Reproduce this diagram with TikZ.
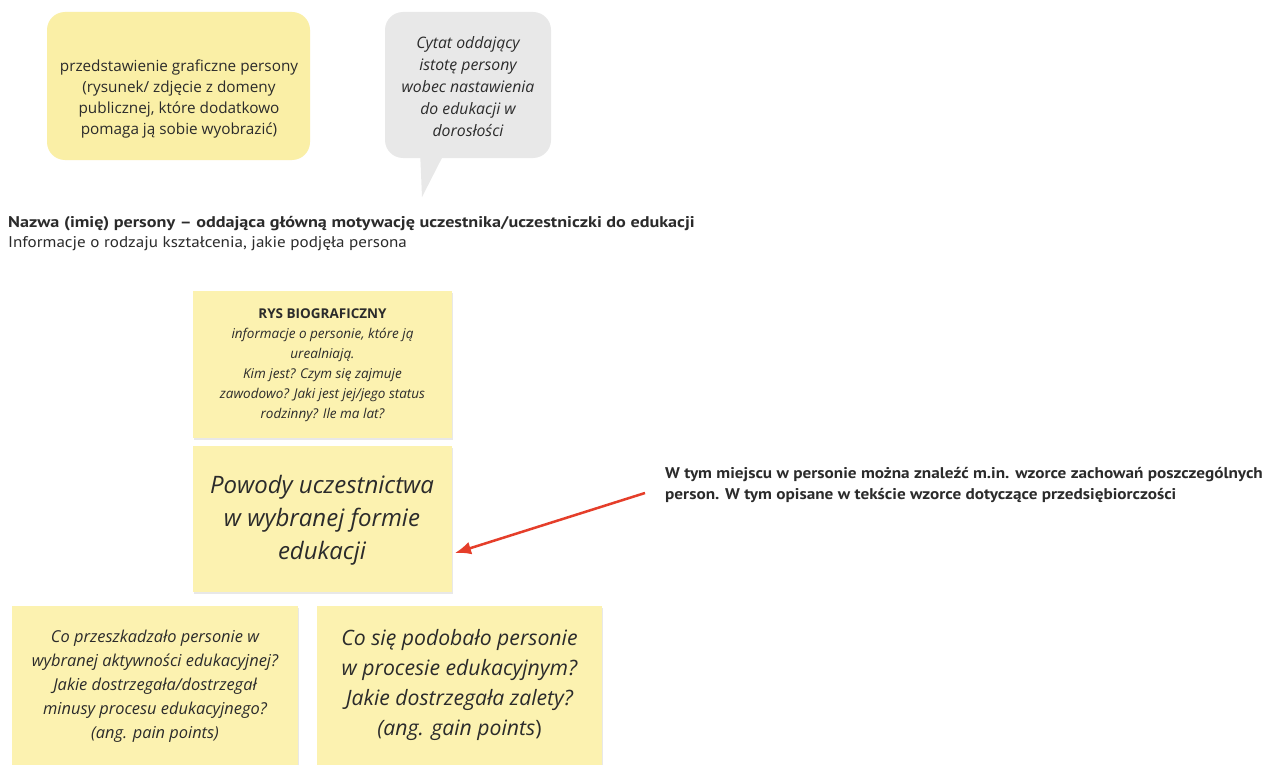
\documentclass[tikz,border=0pt]{standalone}
\usepackage{fontspec}
\setmainfont{Open Sans}
\newfontfamily\hdreg[FakeStretch=1.1]{PT Sans}
\newfontfamily\hdbold[FakeStretch=1.17]{PT Sans}
\newfontfamily\calfont[FakeStretch=1.11]{PT Sans}
\usetikzlibrary{shadows,arrows.meta}
\definecolor{ylw}{HTML}{FAEFA6}
\definecolor{note}{HTML}{FCF2B0}
\definecolor{bub}{HTML}{E8E8E8}
\definecolor{txt}{HTML}{2B2B2B}
\definecolor{arr}{HTML}{E53E2A}
\tikzset{
  rbox/.style={fill=ylw, rounded corners=18pt, inner sep=0pt},
  sticky/.style={fill=note, inner sep=0pt, drop shadow={opacity=0.18, shadow xshift=1pt, shadow yshift=-1.5pt}},
  body/.style={text=txt, align=center},
}
\begin{document}
\begin{tikzpicture}[x=1pt,y=-1pt]
\useasboundingbox[fill=white] (0,0) rectangle (1266,765);
% top left rounded box
\node[rbox, minimum width=263pt, minimum height=148pt] (pic) at (178.5,86) {};
\node[body, font=\fontsize{15.3}{21}\selectfont] (pictxt) at (179,99) {przedstawienie graficzne persony\\(rysunek/ zdjęcie z domeny\\publicznej, które dodatkowo\\pomaga ją sobie wyobrazić)};
% speech bubble
\fill[bub] (420,150) -- (446,150) -- (422,197) -- cycle;
\node[fill=bub, rounded corners=18pt, minimum width=166pt, minimum height=146pt, inner sep=0pt] (quote) at (468,85) {};
\node[body, font=\fontsize{15.8}{22}\selectfont\itshape] (quotetxt) at (468,86.5) {Cytat oddający\\istotę persony\\wobec nastawienia\\do edukacji w\\dorosłości};
% header
\node[anchor=west, text=txt, font=\hdbold\bfseries\fontsize{15.5}{18}\selectfont, inner sep=0pt] (title) at (8,224) {Nazwa (imię) persony – oddająca główną motywację uczestnika/uczestniczki do edukacji};
\node[anchor=west, text=txt, font=\hdreg\fontsize{15.5}{18}\selectfont, inner sep=0pt] (subtitle) at (8,244) {Informacje o rodzaju kształcenia, jakie podjęła persona};
% RYS BIOGRAFICZNY
\node[sticky, minimum width=259pt, minimum height=147pt] (bio) at (322.5,364.5) {};
\node[body, font=\fontsize{13.5}{20}\selectfont] (biotxt) at (322.5,365) {\textbf{RYS BIOGRAFICZNY}\\\itshape informacje o personie, które ją\\\itshape urealniają.\\\itshape Kim jest? Czym się zajmuje\\\itshape zawodowo? Jaki jest jej/jego status\\\itshape rodzinny? Ile ma lat?};
% Powody
\node[sticky, minimum width=259pt, minimum height=146pt] (why) at (322.5,519) {};
\node[body, font=\fontsize{24}{33}\selectfont\itshape] (whytxt) at (322,520) {Powody uczestnictwa\\w wybranej formie\\edukacji};
% pain
\node[sticky, minimum width=286pt, minimum height=162pt] (pain) at (155,687) {};
\node[body, font=\fontsize{16.4}{24}\selectfont\itshape] (paintxt) at (155,686) {Co przeszkadzało personie w\\wybranej aktywności edukacyjnej?\\Jakie dostrzegała/dostrzegał\\minusy procesu edukacyjnego?\\(ang. pain points)};
% gain
\node[sticky, minimum width=285pt, minimum height=162pt] (gain) at (459.5,687) {};
\node[body, font=\fontsize{21.2}{30}\selectfont\itshape] (gaintxt) at (459.5,685) {Co się podobało personie\\w procesie edukacyjnym?\\Jakie dostrzegała zalety?\\(ang. gain points\upshape)};
% callout
\node[anchor=north west, align=left, text=txt, font=\calfont\bfseries\fontsize{15.5}{21}\selectfont, inner sep=0pt] (note) at (665,467) {W tym miejscu w personie można znaleźć m.in. wzorce zachowań poszczególnych\\person. W tym opisane w tekście wzorce dotyczące przedsiębiorczości};
\coordinate (tail) at (645,493);
\coordinate (tip) at (455,553);
\draw[arr, line width=2.5pt, -{Latex[length=16pt,width=13pt]}] (tail) -- (tip);
\end{tikzpicture}
\end{document}
